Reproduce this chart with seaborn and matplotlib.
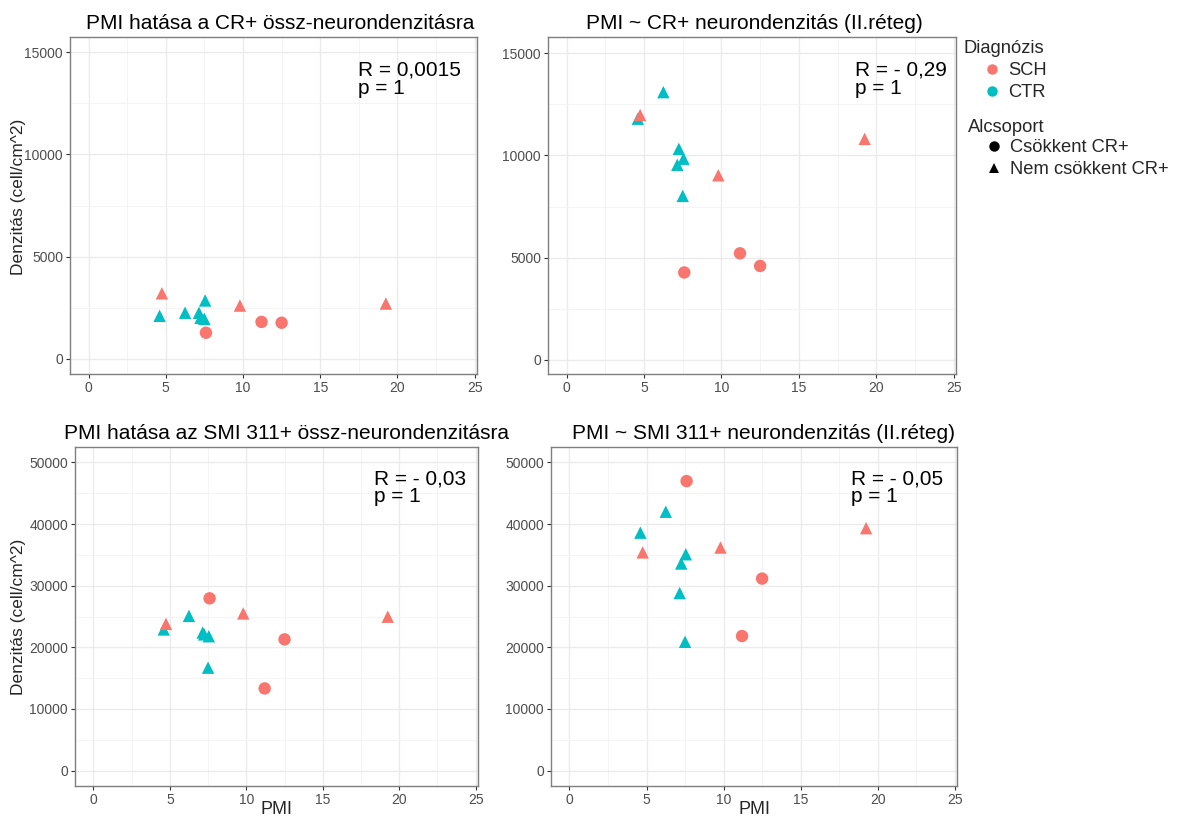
import numpy as np
import pandas as pd
import matplotlib
matplotlib.use("Agg")
import matplotlib.pyplot as plt
import seaborn as sns
from matplotlib.lines import Line2D
from matplotlib.ticker import MultipleLocator

# ---------------- data ----------------
pmi = [4.6, 6.25, 7.15, 7.25, 7.5, 7.55, 4.75, 7.6, 9.8, 11.2, 12.5, 19.25]
diagnosis = ["CTR"] * 6 + ["SCH"] * 6
subgroup = ["Nem csökkent CR+"] * 6 + [
    "Nem csökkent CR+", "Csökkent CR+", "Nem csökkent CR+",
    "Csökkent CR+", "Csökkent CR+", "Nem csökkent CR+"]

cr_total = [2100, 2250, 2250, 2000, 1950, 2850, 3200, 1270, 2600, 1800, 1760, 2700]
cr_layer2 = [11800, 13100, 9545, 10325, 8020, 9840, 11980, 4270, 9030, 5210, 4590, 10810]
smi_total = [22900, 25100, 22400, 22100, 16700, 21800, 23800, 27950, 25500, 13330, 21290, 24970]
smi_layer2 = [38600, 42000, 28800, 33600, 20900, 35100, 35400, 46970, 36190, 21830, 31150, 39330]

titles = ["PMI hatása a CR+ össz-neurondenzitásra",
          "PMI ~ CR+ neurondenzitás (II.réteg)",
          "PMI hatása az SMI 311+ össz-neurondenzitásra",
          "PMI ~ SMI 311+ neurondenzitás (II.réteg)"]
stat_labels = ["R = 0,0015\np = 1", "R = - 0,29\np = 1",
               "R = - 0,03\np = 1", "R = - 0,05\np = 1"]
diag_levels = ["SCH", "CTR"]
sub_levels = ["Csökkent CR+", "Nem csökkent CR+"]
palette = {"SCH": "#F8766D", "CTR": "#00BFC4"}
markers = {"Csökkent CR+": "o", "Nem csökkent CR+": "^"}

df = pd.DataFrame({"PMI": pmi, "Diagnózis": diagnosis, "Alcsoport": subgroup,
                   "cr_total": cr_total, "cr_layer2": cr_layer2,
                   "smi_total": smi_total, "smi_layer2": smi_layer2})
ycols = ["cr_total", "cr_layer2", "smi_total", "smi_layer2"]

# ---------------- style ----------------
sns.set_theme(style="white")
plt.rcParams['font.family'] = ['Liberation Sans', 'DejaVu Sans']

W, H = 1177, 817
fig = plt.figure(figsize=(W / 100, H / 100), dpi=100)

# positions in pixels: left, top, right, bottom
boxes = [(70, 37, 477, 374), (548, 37, 956, 374),
         (75, 447, 478, 786), (551, 447, 957, 786)]
ylims = [(-750, 15750), (-700, 15800), (-2500, 52500), (-2500, 52500)]
ymajor = [5000, 5000, 10000, 10000]
title_dx = [7, 2, 10, 9]
stat_pos = [(0.708, 0.93), (0.752, 0.93), (0.742, 0.935), (0.738, 0.935)]
ylabel_y = [0.525, 0.5, 0.5, 0.5]

axes = []
for i, (l, t, r, b) in enumerate(boxes):
    ax = fig.add_axes([l / W, 1 - b / H, (r - l) / W, (b - t) / H])
    axes.append(ax)
    sns.scatterplot(data=df, x="PMI", y=ycols[i], hue="Diagnózis", style="Alcsoport",
                    hue_order=diag_levels, style_order=sub_levels,
                    palette=palette, markers=markers, s=80, linewidth=0,
                    legend=False, ax=ax, zorder=3)
    ax.set_xlim(-1.2, 25.15)
    ax.set_ylim(*ylims[i])
    ax.xaxis.set_major_locator(MultipleLocator(5))
    ax.xaxis.set_minor_locator(MultipleLocator(2.5))
    ax.yaxis.set_major_locator(MultipleLocator(ymajor[i]))
    ax.yaxis.set_minor_locator(MultipleLocator(ymajor[i] / 2))
    ax.grid(which="major", color="#EBEBEB", linewidth=1.0)
    ax.grid(which="minor", color="#F2F2F2", linewidth=0.6)
    ax.set_axisbelow(True)
    for sp in ax.spines.values():
        sp.set_color("#7F7F7F")
        sp.set_linewidth(1.0)
    ax.tick_params(axis="both", which="major", length=3, width=0.8, color="#333333",
                   labelsize=10, labelcolor="#4D4D4D", pad=2, bottom=True, left=True)
    ax.tick_params(which="minor", length=0)
    ax.set_title(titles[i], fontsize=15, color="black", pad=6,
                 x=0.5 + title_dx[i] / (boxes[i][2] - boxes[i][0]))
    ax.text(stat_pos[i][0], stat_pos[i][1], stat_labels[i], transform=ax.transAxes,
            ha="left", va="top", fontsize=15, linespacing=0.95, color="black")
    if i in (0, 2):
        ax.set_ylabel("Denzitás (cell/cm^2)", fontsize=12.5)
        ax.yaxis.set_label_coords((26 - l) / (r - l), ylabel_y[i])
    else:
        ax.set_ylabel("")
    if i in (2, 3):
        ax.set_xlabel("PMI", fontsize=13, labelpad=-4)
    else:
        ax.set_xlabel("")

# ---------------- legend ----------------
fig.text(963 / W, 1 - 53 / H, "Diagnózis", fontsize=13.2, va="baseline", ha="left")
fig.text(968 / W, 1 - 132 / H, "Alcsoport", fontsize=13.2, va="baseline", ha="left")

h_diag = [Line2D([], [], linestyle="", marker="o", markersize=7.5,
                 markerfacecolor=palette[d], markeredgewidth=0) for d in diag_levels]
h_sub = [Line2D([], [], linestyle="", marker=markers[s], markersize=7.5,
                markerfacecolor="black", markeredgewidth=0) for s in sub_levels]

leg1 = fig.legend(h_diag, diag_levels, loc="upper left",
                  bbox_to_anchor=(981 / W, 1 - 62 / H), frameon=False,
                  fontsize=13.2, handletextpad=0.3, labelspacing=0.28,
                  borderpad=0, handlelength=1.2, borderaxespad=0)
leg2 = fig.legend(h_sub, sub_levels, loc="upper left",
                  bbox_to_anchor=(983 / W, 1 - 139 / H), frameon=False,
                  fontsize=13.2, handletextpad=0.3, labelspacing=0.28,
                  borderpad=0, handlelength=1.2, borderaxespad=0)

fig.savefig("out.png", dpi=100)
